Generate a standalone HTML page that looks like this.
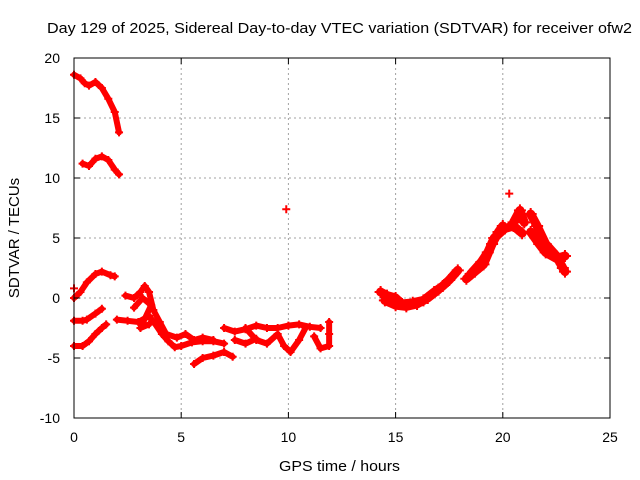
<!DOCTYPE html>
<html><head><meta charset="utf-8"><style>
body{margin:0;background:#fff;}
svg{display:block;font-family:"Liberation Sans",sans-serif;}
</style></head><body>
<svg id="chart" width="640" height="480" xmlns="http://www.w3.org/2000/svg">
<rect x="0" y="0" width="640" height="480" fill="#fff"/>
<text x="47" y="33" font-size="15" textLength="585" lengthAdjust="spacingAndGlyphs">Day 129 of 2025, Sidereal Day-to-day VTEC variation (SDTVAR) for receiver ofw2</text>
<g id="grid"></g>
<g id="marks"></g>
<rect x="74" y="58" width="536" height="360" fill="none" stroke="#000" stroke-width="1"/>
<g id="ticks"></g>
<text x="279" y="471" font-size="15" textLength="121" lengthAdjust="spacingAndGlyphs">GPS time / hours</text>
<text transform="translate(19,238) rotate(-90)" font-size="15" text-anchor="middle">SDTVAR / TECUs</text>
</svg>
<script>
const xTicks=[0,5,10,15,20,25];
const yTicks=[-10,-5,0,5,10,15,20];
const trackA=[[0,18.6],[0.3,18.3],[0.5,17.9],[0.7,17.7],[1,18],[1.3,17.5],[1.6,16.6],[1.9,15.5],[2.1,13.8]];
const trackB=[[0.4,11.2],[0.7,11],[1.0,11.6],[1.3,11.8],[1.6,11.5],[1.9,10.7],[2.1,10.3]];
const trackC=[[0,0],[0.3,0.5],[0.6,1.3],[1,2],[1.3,2.2],[1.7,1.9],[1.9,1.8]];
const trackD=[[0,-1.9],[0.4,-1.9],[0.6,-1.8],[1,-1.3],[1.3,-0.9]];
const trackE=[[0,-4],[0.4,-4],[0.7,-3.6],[1,-3],[1.3,-2.5],[1.5,-2.2]];
const trackF=[[2.4,0.2],[2.8,0],[3.1,0.5],[3.3,1],[3.5,0.5],[3.7,-1],[4,-2],[4.3,-3],[4.8,-3.3],[5.2,-3],[5.6,-3.5],[6,-3.3],[6.5,-3.5]];
const trackG=[[2.0,-1.8],[2.5,-1.9],[3,-2],[3.5,-1.5],[3.8,-2.2],[4.1,-3],[4.4,-3.6],[4.7,-4.1],[5,-4],[5.5,-3.7],[6,-3.6],[6.5,-3.6],[7,-3.8]];
const trackH=[[2.8,-0.8],[3.2,0],[3.6,-0.6],[3.1,-2.5],[3.5,-2.2]];
const trackI=[[5.6,-5.5],[6,-5],[6.5,-4.8],[7,-4.5],[7.4,-4.9]];
const trackJ=[[7,-2.5],[7.5,-2.8],[8,-2.6],[8.5,-2.3],[9,-2.5],[9.5,-2.5],[10,-2.3],[10.5,-2.2],[11,-2.4],[11.5,-2.5]];
const trackK=[[8,-2.5],[8.5,-3.5],[9,-3.8],[9.5,-3.0],[9.8,-4],[10.1,-4.5],[10.5,-3.5],[10.8,-2.5]];
const trackL=[[7.5,-3.5],[8,-3.8],[8.5,-3.4]];
const trackM=[[11.2,-3.2],[11.5,-4.2],[11.9,-4],[11.9,-3],[11.9,-2]];
const trackN=[[14.3,0.5],[14.6,0.2],[15,0],[15.3,-0.5],[15.8,-0.4],[16.3,-0.2],[16.8,0.5],[17.2,1],[17.5,1.5],[17.9,2.3]];
const trackO=[[14.5,-0.2],[15,-0.6],[15.5,-0.7],[16,-0.5],[16.5,0],[17,0.7]];
const trackP=[[18.3,1.6],[18.7,2.2],[19.1,2.8],[19.5,4.5],[19.8,5.5],[20,6]];
const trackQ=[[18.5,2],[19,3],[19.3,3.8],[19.6,5],[20.1,5.8],[20.5,6],[20.9,5.4]];
const trackR=[[20.5,6.3],[20.8,7.3],[21,6.3]];
const trackS=[[21.3,7],[21.6,6],[22,4.5],[22.5,3.5],[22.8,2.5],[22.9,2.2]];
const trackT=[[21.3,5.5],[21.7,4.5],[22,3.8],[22.5,3.3],[22.9,3.5]];
const singlePoints=[[9.9,7.4],[20.3,8.7],[0,0.8]];
const tracksLeft=[trackA,trackB,trackC,trackD,trackE,trackF,trackG,trackH,trackI,trackJ,trackK,trackL,trackM];
const tracksRight=[trackN,trackO,trackP,trackQ,trackR,trackS,trackT];

const X0=74,X1=610,Y0=418,Y1=58;
function xs(h){return X0+(h-0)/(25-0)*(X1-X0);}
function ys(v){return Y0-(v+10)/30*(Y0-Y1);}
const NS="http://www.w3.org/2000/svg";
const grid=document.getElementById('grid'),ticks=document.getElementById('ticks'),marks=document.getElementById('marks');
function mk(t,a,p){const e=document.createElementNS(NS,t);for(const k in a)e.setAttribute(k,a[k]);p.appendChild(e);return e;}
xTicks.forEach(t=>{
  const x=xs(t);
  if(t>0&&t<25){const g=mk('line',{x1:x,x2:x,y1:Y1,y2:Y0,stroke:'#a0a0a0','stroke-dasharray':'2,3'},grid);
  
  }
  const tl=mk('text',{x:x,y:Y0+24,'font-size':14,'text-anchor':'middle'},ticks);tl.textContent=t;
  
  
  mk('line',{x1:x,x2:x,y1:Y0,y2:Y0-6,stroke:'#000'},ticks);
  mk('line',{x1:x,x2:x,y1:Y1,y2:Y1+6,stroke:'#000'},ticks);
});
yTicks.forEach(t=>{
  const y=ys(t);
  if(t>-10&&t<20){const g=mk('line',{x1:X0,x2:X1,y1:y,y2:y,stroke:'#a0a0a0','stroke-dasharray':'2,3'},grid);
  
  }
  const tl=mk('text',{x:X0-14,y:y+5,'font-size':14,'text-anchor':'end'},ticks);tl.textContent=t;
  
  
  mk('line',{x1:X0,x2:X0+6,y1:y,y2:y,stroke:'#000'},ticks);
  mk('line',{x1:X1,x2:X1-6,y1:y,y2:y,stroke:'#000'},ticks);
});
function plus(h,v,s){
  const x=xs(h),y=ys(v);
  const p=mk('path',{d:`M${x-s},${y}H${x+s}M${x},${y-s}V${y+s}`,stroke:'#f00','stroke-width':2},marks);
  
  
}
function drawTrack(tr,w,s){
  const pl=mk('polyline',{points:tr.map(p=>xs(p[0])+','+ys(p[1])).join(' '),fill:'none',stroke:'#f00','stroke-width':w,'stroke-linejoin':'round','stroke-linecap':'round'},marks);
  
  
  tr.forEach(p=>plus(p[0],p[1],s));
}
tracksLeft.forEach(tr=>drawTrack(tr,6,4));
tracksRight.forEach(tr=>drawTrack(tr,9,6));
singlePoints.forEach(p=>plus(p[0],p[1],4));
</script>
</body></html>
